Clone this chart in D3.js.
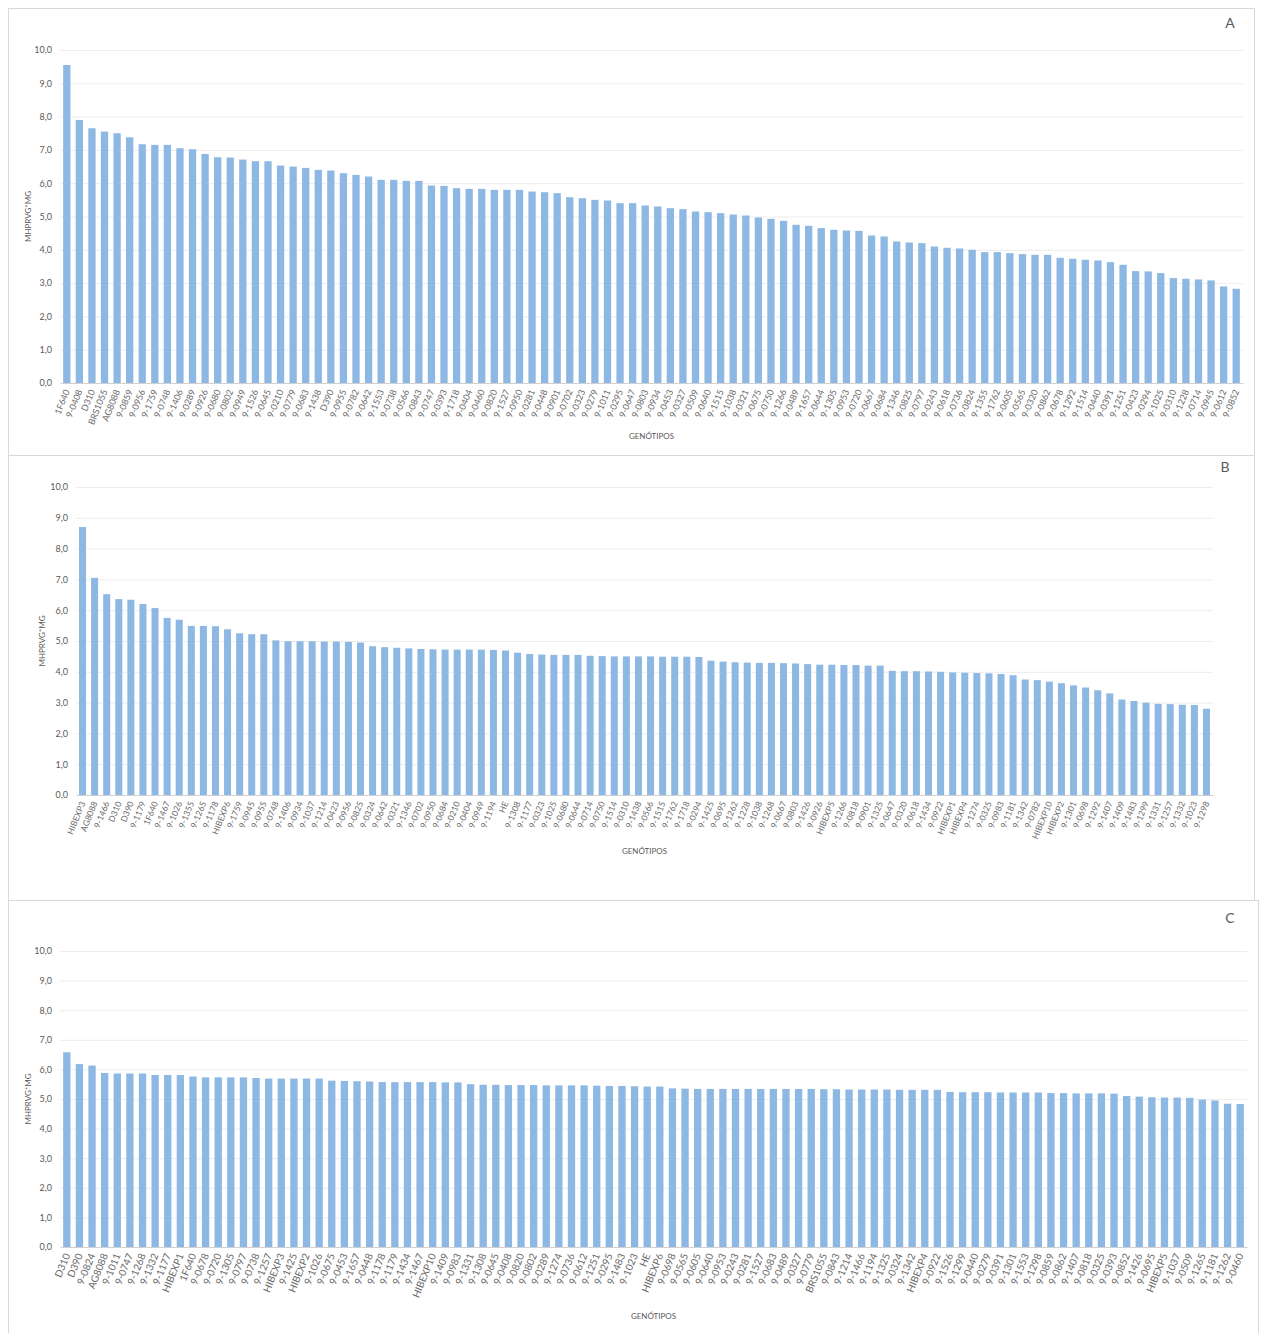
<!DOCTYPE html>
<html>
  <head>
    <script src="https://cdn.jsdelivr.net/npm/d3@7/dist/d3.min.js" charset="utf-8"></script>
    <style>
      body { margin: 0; background: #fff; }
      text { font-family: Lato, "Open Sans", sans-serif; }
    </style>
  </head>
  <body>
    <svg id="chart" width="1263" height="1333"></svg>
    <script>
      // genótipos e valores de cada painel
      var genA = ["1F640","9-0408","D310","BRS1055","AG8088","9-0859","9-0956","9-1759","9-0748","9-1406",
        "9-0289","9-0926","9-0680","9-0802","9-0949","9-1526","9-0645","9-0210","9-0779","9-0683",
        "9-1438","D390","9-0955","9-0782","9-0642","9-1553","9-0738","9-0566","9-0843","9-0747",
        "9-0393","9-1718","9-0404","9-0460","9-0820","9-1527","9-0950","9-0281","9-0448","9-0901",
        "9-0702","9-0323","9-0279","9-1011","9-0295","9-0647","9-0803","9-0934","9-0453","9-0327",
        "9-0509","9-0640","9-1515","9-1038","9-0321","9-0675","9-0750","9-1266","9-0489","9-1657",
        "9-0644","9-1305","9-0953","9-0720","9-0667","9-0684","9-1346","9-0825","9-0797","9-0243",
        "9-0618","9-0736","9-0824","9-1355","9-1762","9-0605","9-0565","9-0320","9-0862","9-0678",
        "9-1292","9-1514","9-0440","9-0391","9-1251","9-0423","9-0294","9-1025","9-0310","9-1228",
        "9-0714","9-0945","9-0612","9-0852"];
      var valA = [9.55,7.9,7.65,7.55,7.5,7.38,7.17,7.15,7.15,7.05,
        7.02,6.88,6.78,6.77,6.71,6.66,6.66,6.53,6.5,6.46,
        6.4,6.38,6.3,6.25,6.2,6.1,6.1,6.07,6.07,5.93,
        5.92,5.85,5.83,5.83,5.8,5.8,5.8,5.75,5.73,5.7,
        5.58,5.55,5.5,5.48,5.4,5.4,5.33,5.3,5.25,5.22,
        5.15,5.13,5.1,5.06,5.03,4.97,4.93,4.87,4.75,4.72,
        4.65,4.6,4.58,4.57,4.43,4.4,4.25,4.22,4.2,4.1,
        4.06,4.04,4.0,3.93,3.93,3.9,3.87,3.85,3.85,3.76,
        3.73,3.7,3.68,3.63,3.55,3.36,3.35,3.3,3.15,3.13,
        3.11,3.08,2.9,2.83];

      var genB = ["HIBEXP3","AG8088","9-1466","D310","D390","9-1179","1F640","9-1467","9-1026","9-1355",
        "9-1265","9-1178","HIBEXP6","9-1759","9-0945","9-0955","9-0748","9-1406","9-0934","9-1037",
        "9-1214","9-0423","9-0956","9-0825","9-0324","9-0642","9-0321","9-1346","9-0702","9-0950",
        "9-0684","9-0210","9-0404","9-0949","9-1194","HE","9-1308","9-1177","9-0323","9-1025",
        "9-0680","9-0644","9-0714","9-0750","9-1514","9-0310","9-1438","9-0566","9-1515","9-1762",
        "9-1718","9-0294","9-1425","9-0695","9-1262","9-1228","9-1038","9-1268","9-0667","9-0803",
        "9-1426","9-0926","HIBEXP5","9-1266","9-0818","9-0901","9-1325","9-0647","9-0320","9-0618",
        "9-1434","9-0922","HIBEXP1","HIBEXP4","9-1274","9-0325","9-0983","9-1181","9-1342","9-0782",
        "HIBEXP10","HIBEXP2","9-1301","9-0698","9-1292","9-1407","9-1409","9-1483","9-1299","9-1331",
        "9-1257","9-1332","9-1023","9-1298"];
      var valB = [8.7,7.05,6.52,6.36,6.34,6.2,6.07,5.75,5.69,5.49,
        5.49,5.48,5.38,5.25,5.22,5.22,5.02,4.99,4.99,4.99,
        4.98,4.98,4.97,4.95,4.83,4.8,4.78,4.76,4.74,4.73,
        4.72,4.72,4.72,4.72,4.71,4.69,4.62,4.58,4.56,4.55,
        4.55,4.55,4.52,4.51,4.5,4.5,4.5,4.5,4.49,4.49,
        4.49,4.48,4.36,4.33,4.31,4.3,4.29,4.29,4.28,4.27,
        4.25,4.23,4.23,4.22,4.22,4.2,4.2,4.03,4.02,4.02,
        4.01,4.0,3.98,3.97,3.96,3.95,3.93,3.89,3.75,3.73,
        3.68,3.63,3.56,3.49,3.4,3.3,3.1,3.05,3.0,2.96,
        2.95,2.93,2.92,2.8];

      var genC = ["D310","D390","9-0824","AG8088","9-1011","9-0747","9-1268","9-1332","9-1177","HIBEXP1",
        "1F640","9-0678","9-0720","9-1305","9-0797","9-0738","9-1257","HIBEXP3","9-1425","HIBEXP2",
        "9-1026","9-0675","9-0453","9-1657","9-0448","9-1178","9-1179","9-1434","9-1467","HIBEXP10",
        "9-1409","9-0983","9-1331","9-1308","9-0645","9-0408","9-0820","9-0802","9-0289","9-1274",
        "9-0736","9-0612","9-1251","9-0295","9-1483","9-1023","HE","HIBEXP6","9-0698","9-0565",
        "9-0605","9-0640","9-0953","9-0243","9-0281","9-1527","9-0683","9-0489","9-0327","9-0779",
        "BRS1055","9-0843","9-1214","9-1466","9-1194","9-1325","9-0324","9-1342","HIBEXP4","9-0922",
        "9-1526","9-1299","9-0440","9-0279","9-0391","9-1301","9-1553","9-1298","9-0859","9-0862",
        "9-1407","9-0818","9-0325","9-0393","9-0852","9-1426","9-0695","HIBEXP5","9-1037","9-0509",
        "9-1265","9-1181","9-1262","9-0460"];
      var valC = [6.58,6.18,6.13,5.88,5.86,5.86,5.86,5.81,5.81,5.81,
        5.76,5.73,5.73,5.73,5.73,5.71,5.69,5.69,5.69,5.69,
        5.69,5.62,5.61,5.6,5.59,5.57,5.57,5.57,5.57,5.57,
        5.56,5.56,5.5,5.48,5.48,5.47,5.47,5.47,5.46,5.46,
        5.46,5.46,5.45,5.44,5.44,5.43,5.42,5.42,5.36,5.35,
        5.34,5.34,5.34,5.34,5.34,5.34,5.34,5.34,5.34,5.34,
        5.33,5.33,5.32,5.32,5.32,5.32,5.31,5.31,5.31,5.31,
        5.24,5.23,5.23,5.23,5.22,5.22,5.22,5.22,5.2,5.2,
        5.19,5.19,5.19,5.18,5.1,5.08,5.06,5.05,5.05,5.04,
        4.98,4.95,4.84,4.83];

      var yTicks = [0,1,2,3,4,5,6,7,8,9,10];

      var svg = d3.select("#chart");
      var barColor = "#8db8e3";

      function panel(p) {
        svg.append("rect")
          .attr("x", p.box[0] + 0.5).attr("y", p.box[1] + 0.5)
          .attr("width", p.box[2]).attr("height", p.box[3])
          .attr("fill", "none").attr("stroke", "#d9d9d9");

        var x = d3.scaleBand().domain(p.gen).range([p.left, p.right]).paddingInner(0.42).paddingOuter(0.25);
        var y = d3.scaleLinear().domain([0, 10]).range([p.bottom, p.top]);
        var g = svg.append("g");

        // grade
        g.append("g").selectAll("line").data(yTicks.slice(1)).enter().append("line")
          .attr("x1", p.left).attr("x2", p.right)
          .attr("y1", d => y(d) + 0.5).attr("y2", d => y(d) + 0.5)
          .attr("stroke", "#ececec");

        g.append("g").selectAll("rect").data(p.val).enter().append("rect")
          .attr("x", (d, i) => x(p.gen[i]))
          .attr("width", x.bandwidth())
          .attr("y", d => y(d))
          .attr("height", d => y(0) - y(d))
          .attr("fill", barColor);

        var ya = g.append("g").attr("transform", `translate(${p.left},0)`)
          .call(d3.axisLeft(y).tickValues(yTicks).tickSize(0).tickPadding(8).tickFormat(d => d3.format(".1f")(d).replace(".", ",")));
        ya.select(".domain").remove();
        ya.selectAll("text").attr("fill", "#595959").style("font-size", "9px");

        var xa = g.append("g").attr("transform", `translate(0,${p.bottom})`)
          .call(d3.axisBottom(x).tickSize(0).tickPadding(4));
        xa.select(".domain").attr("stroke", "#d0d0d0");
        xa.selectAll("text")
          .attr("fill", "#6a6a6a").style("font-size", p.fs)
          .attr("text-anchor", "end")
          .attr("dy", "0.35em")
          .attr("transform", "translate(1,5) rotate(-68)")
          .attr("x", -2).attr("y", 0);

        g.append("text").attr("x", (p.left + p.right) / 2).attr("y", p.xTitle)
          .attr("text-anchor", "middle").attr("fill", "#595959").style("font-size", "8px")
          .text("GENÓTIPOS");
        g.append("text")
          .attr("transform", `translate(${p.yTitle},${(p.top + p.bottom) / 2}) rotate(-90)`)
          .attr("text-anchor", "middle").attr("dy", "0.35em").attr("fill", "#595959").style("font-size", "8px")
          .text("MHPRVG*MG");
        g.append("text").attr("x", p.letter[0]).attr("y", p.letter[1])
          .attr("text-anchor", "middle").attr("fill", "#595959").style("font-size", "14px")
          .text(p.name);
      }

      panel({name: "A", gen: genA, val: valA, box: [8, 8, 1246, 447],
        left: 60, right: 1243, top: 50, bottom: 383, xTitle: 439, yTitle: 28, letter: [1230, 28], fs: "9px"});
      panel({name: "B", gen: genB, val: valB, box: [8, 455, 1246, 445],
        left: 76, right: 1213, top: 487, bottom: 795, xTitle: 854, yTitle: 42, letter: [1225, 472], fs: "8.5px"});
      panel({name: "C", gen: genC, val: valC, box: [8, 900, 1250, 440],
        left: 60, right: 1247, top: 951, bottom: 1247, xTitle: 1319, yTitle: 28, letter: [1230, 923], fs: "10px"});
    </script>
  </body>
</html>
